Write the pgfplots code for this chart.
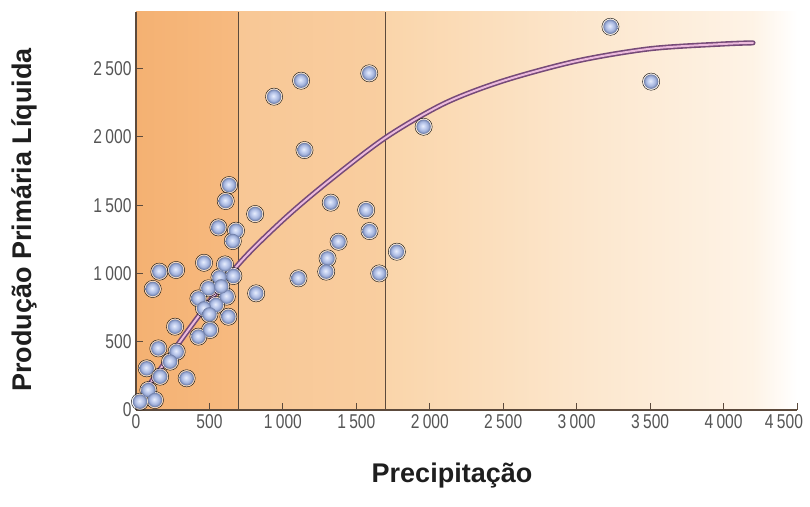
\documentclass[border=0pt]{standalone}
\usepackage{pgfplots}
\pgfplotsset{compat=1.18}
\usepackage{fontspec}
\setmainfont{Liberation Sans}
\newfontfamily\tickfont[FakeStretch=0.78]{Liberation Sans}

\definecolor{axisbrown}{RGB}{92,74,60}
\definecolor{tickgray}{RGB}{85,85,85}
\definecolor{labelblack}{RGB}{30,30,30}
\definecolor{bgA}{RGB}{244,177,114}
\definecolor{bgB}{RGB}{247,186,128}
\definecolor{bgC}{RGB}{248,199,149}
\definecolor{bgD}{RGB}{249,206,160}
\definecolor{bgE}{RGB}{250,213,170}
\definecolor{bgF}{RGB}{252,230,204}
\definecolor{bgG}{RGB}{254,243,230}
\definecolor{curveout}{RGB}{118,74,120}
\definecolor{curvein}{RGB}{236,186,220}

% soft bluish sphere marker
\pgfdeclareradialshading{sphere}{\pgfpoint{-3bp}{3bp}}{%
  color(0bp)=(rgb,255:red,232;green,238;blue,252);
  color(9bp)=(rgb,255:red,196;green,208;blue,240);
  color(18bp)=(rgb,255:red,160;green,176;blue,218);
  color(23bp)=(rgb,255:red,118;green,134;blue,176);
  color(26bp)=(rgb,255:red,100;green,114;blue,156);
  color(50bp)=(rgb,255:red,100;green,114;blue,156)}
\pgfdeclareplotmark{sphere}{%
  \pgfpathcircle{\pgfpointorigin}{\pgfplotmarksize}%
  \pgfshadepath{sphere}{0}%
  \pgfusepath{}}

% observed sites: precipitation vs. net primary production
\pgfplotstableread{
x     y
940   2294
1124  2411
1588  2465
1958  2074
1147  1903
811   1435
1326  1518
1567  1464
1590  1310
1379  1232
1776  1159
1304  1110
1295  1013
1106  964
1656  1000
818   854
3230  2806
3507  2404
634   1647
611   1530
561   1337
681   1313
659   1237
463   1078
606   1066
159   1013
273   1025
114   886
568   971
663   981
493   891
425   817
618   830
580   905
545   769
463   744
629   683
500   700
504   586
425   537
266   610
152   451
277   427
232   354
73    305
164   244
345   232
84    146
129   73
27    61
}\sites

% fitted trend
\pgfplotstableread{
x     y
80    170
400   650
700   1070
1000  1390
1300  1665
1700  1995
2100  2245
2500  2410
3000  2555
3500  2645
4000  2680
4200  2688
}\trend

\begin{document}
\begin{tikzpicture}
\path[use as bounding box] (-136bp,-97bp) rectangle (674bp,410bp);
\begin{axis}[
  scale only axis,
  width=661bp, height=398bp,
  at={(0,0)}, anchor=south west,
  xmin=0, xmax=4500, ymin=0, ymax=2914,
  axis x line=bottom, axis y line=left,
  axis line style={-, draw=axisbrown, line width=1.1bp},
  axis on top,
  xtick={0,500,...,4000},
  extra x ticks={4500},
  extra x tick style={xticklabel style={xshift=-13bp}},
  ytick={500,1000,...,2500},
  extra y ticks={0}, extra y tick style={major tick length=0pt},
  tick align=inside,
  major tick length=7bp,
  tick style={draw=axisbrown, line width=1bp},
  /pgf/number format/assume math mode=true,
  /pgf/number format/1000 sep={\,},
  ticklabel style={font=\tickfont\fontsize{20bp}{23bp}\selectfont, text=tickgray},
  xticklabel style={yshift=-1bp},
  yticklabel style={xshift=-1bp},
  clip=false,
]
% background bands
\fill[left color=bgA, right color=bgB] (axis cs:0,0) rectangle (axis cs:700,2914);
\fill[left color=bgC, right color=bgD] (axis cs:700,0) rectangle (axis cs:1700,2914);
\fill[left color=bgE, right color=bgF] (axis cs:1700,0) rectangle (axis cs:3000,2914);
\fill[left color=bgF, right color=bgG] (axis cs:3000,0) rectangle (axis cs:4200,2914);
\fill[left color=bgG, right color=white] (axis cs:4200,0) rectangle (axis cs:4500,2914);
% precipitation class boundaries
\draw[axisbrown, line width=1bp] (axis cs:700,0) -- (axis cs:700,2914);
\draw[axisbrown, line width=1bp] (axis cs:1700,0) -- (axis cs:1700,2914);
% halos and spheres
\addplot[only marks, mark=*, mark size=8.6bp, mark options={draw=none, fill=white, fill opacity=0.55}] table[x=x, y=y] {\sites};
\addplot[only marks, mark=sphere, mark size=7.2bp] table[x=x, y=y] {\sites};
% trend curve
\addplot[smooth, draw=curveout, line width=1.6bp, double=curvein, double distance=2bp, line cap=round] table[x=x, y=y] {\trend};
\end{axis}
\node[font=\bfseries\fontsize{27bp}{31bp}\selectfont, text=labelblack, anchor=base] at (316bp,-72bp) {Precipitação};
\node[font=\bfseries\fontsize{27bp}{31bp}\selectfont, text=labelblack, rotate=90, anchor=center] at (-112bp,190bp) {Produção Primária Líquida};
\end{tikzpicture}
\end{document}
